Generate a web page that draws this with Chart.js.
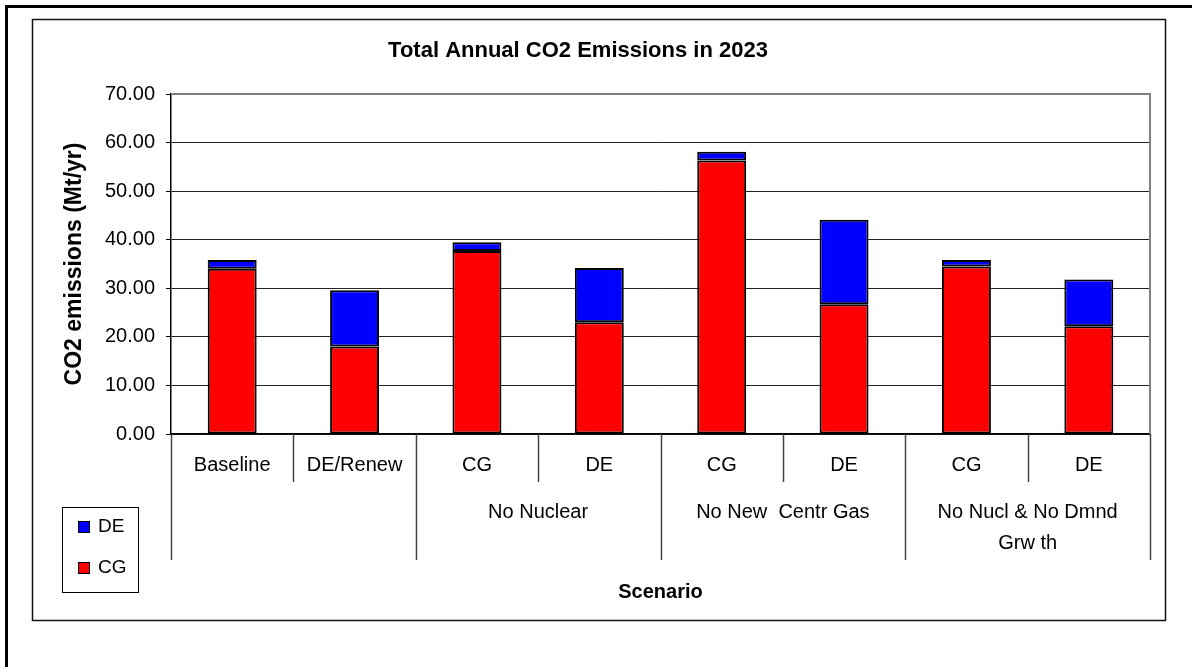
<!DOCTYPE html>
<html>
<head>
<meta charset="utf-8">
<title>Total Annual CO2 Emissions in 2023</title>
<script src="https://cdn.jsdelivr.net/npm/chart.js@4.4.1/dist/chart.umd.min.js"></script>
<style>
    body { margin: 0; background: #fff; }
    canvas { display: block; }
</style>
</head>
<body>
<canvas id="co2Chart" width="1192" height="667"></canvas>
<script>
const categories = ["Baseline", "DE/Renew", "CG", "DE", "CG", "DE", "CG", "DE"]
const cgValues = [34.0, 18.0, 37.7, 23.0, 56.3, 26.7, 34.5, 22.2]
const deValues = [1.8, 11.6, 1.8, 11.2, 1.8, 17.4, 1.3, 9.6]
const yTicks = [0, 10, 20, 30, 40, 50, 60, 70]

// scenario groups under the second label row: [first index, last index, lines]
const groups = [
    [2, 3, ["No Nuclear"]],
    [4, 5, ["No New  Centr Gas"]],
    [6, 7, ["No Nucl & No Dmnd", "Grw th"]]
]
// category boundaries whose divider runs down through the group row
const longDividers = [0, 2, 4, 6, 8]

const FONT = "'Liberation Sans', Arial, sans-serif"

const frame = {
    id: "frame",
    beforeDraw(chart) {
        const c = chart.ctx
        c.save()
        c.fillStyle = "#fff"
        c.fillRect(0, 0, chart.width, chart.height)
        c.restore()
    },
    afterDraw(chart) {
        const c = chart.ctx
        const area = chart.chartArea
        const x = chart.scales.x
        const catW = (area.right - area.left) / categories.length
        c.save()

        // page frame and chart box
        c.strokeStyle = "#000"
        c.lineWidth = 3
        c.beginPath()
        c.moveTo(6.5, chart.height)
        c.lineTo(6.5, 6.5)
        c.lineTo(chart.width, 6.5)
        c.stroke()
        c.lineWidth = 1.5
        c.strokeStyle = "#111"
        c.strokeRect(32.5, 19.5, 1133, 601)

        // plot area border (top and right)
        c.strokeStyle = "#808080"
        c.lineWidth = 2
        c.beginPath()
        c.moveTo(area.left, area.top)
        c.lineTo(area.right, area.top)
        c.lineTo(area.right, area.bottom)
        c.stroke()

        // title
        c.fillStyle = "#000"
        c.textAlign = "center"
        c.textBaseline = "middle"
        c.font = "bold 22px " + FONT
        c.fillText("Total Annual CO2 Emissions in 2023", 578, 51)

        // y axis title
        c.save()
        c.translate(75, (area.top + area.bottom) / 2)
        c.rotate(-Math.PI / 2)
        c.font = "bold 23px " + FONT
        c.fillText("CO2 emissions (Mt/yr)", 0, 0)
        c.restore()

        // category dividers
        c.strokeStyle = "#444"
        c.lineWidth = 1.5
        for (let b = 0; b <= categories.length; b++) {
            const px = Math.round(area.left + b * catW) + 0.5
            c.beginPath()
            c.moveTo(px, area.bottom)
            c.lineTo(px, longDividers.includes(b) ? 560 : 482)
            c.stroke()
        }

        // category and group labels
        c.font = "20px " + FONT
        categories.forEach((label, i) => {
            c.fillText(label, x.getPixelForValue(i), 465)
        })
        groups.forEach(([a, b, lines]) => {
            const cx = (x.getPixelForValue(a) + x.getPixelForValue(b)) / 2
            lines.forEach((line, k) => c.fillText(line, cx, 512 + k * 31))
        })

        // x axis title
        c.font = "bold 20px " + FONT
        c.fillText("Scenario", (area.left + area.right) / 2, 592)

        // legend
        c.strokeStyle = "#000"
        c.lineWidth = 1
        c.strokeRect(62.5, 507.5, 76, 85)
        const items = [["DE", "#0000FF", 527], ["CG", "#FF0000", 568]]
        c.textAlign = "left"
        c.font = "19px " + FONT
        items.forEach(([name, color, y]) => {
            c.fillStyle = color
            c.fillRect(78, y - 6, 12, 12)
            c.strokeRect(78.5, y - 5.5, 11, 11)
            c.fillStyle = "#000"
            c.fillText(name, 98, y)
        })
        c.restore()
    }
}

const data = {
    labels: categories,
    datasets: [
        {
            label: "CG",
            data: cgValues,
            backgroundColor: "#FF0000",
            borderColor: "#000",
            borderWidth: 2,
            borderSkipped: false
        },
        {
            label: "DE",
            data: deValues,
            backgroundColor: "#0000FF",
            borderColor: "#000",
            borderWidth: 2,
            borderSkipped: false
        }
    ]
}

const config = {
    type: "bar",
    data: data,
    plugins: [frame],
    options: {
        responsive: false,
        animation: false,
        datasets: {
            bar: { barPercentage: 0.4, categoryPercentage: 1.0 }
        },
        layout: {
            padding: { top: 94, right: 42, bottom: 0, left: 0 }
        },
        plugins: {
            legend: { display: false },
            title: { display: false },
            tooltip: { enabled: false }
        },
        scales: {
            x: {
                stacked: true,
                ticks: { display: false },
                grid: { display: false },
                border: { display: true, color: "#000", width: 1.5 },
                afterFit(scale) { scale.height = 233 }
            },
            y: {
                stacked: true,
                min: 0,
                max: 70,
                afterBuildTicks(scale) {
                    scale.ticks = yTicks.map(v => ({ value: v }))
                },
                ticks: {
                    padding: 11,
                    color: "#000",
                    font: { family: FONT, size: 20 },
                    callback: v => v.toFixed(2)
                },
                grid: {
                    color: ctx => ctx.tick && ctx.tick.value === 70 ? "rgba(0,0,0,0)" : "#222",
                    tickColor: "#000",
                    tickLength: 5,
                    lineWidth: 1
                },
                border: { display: true, color: "#000", width: 1.5 },
                afterFit(scale) { scale.width = 171 }
            }
        }
    }
}

new Chart(document.getElementById("co2Chart"), config)
</script>
</body>
</html>
